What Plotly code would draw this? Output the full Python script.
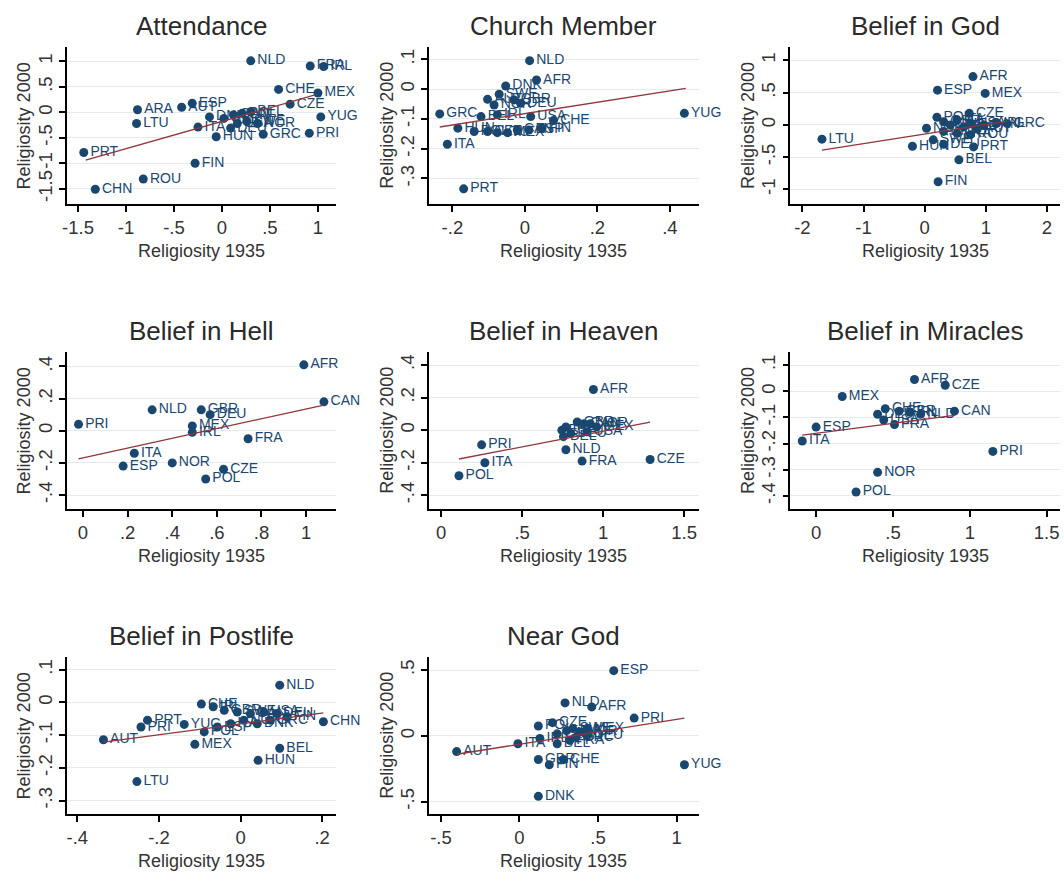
import plotly.graph_objects as go

W, H = 1064, 882

# ---------------- data: country code, religiosity 1935 (x), religiosity 2000 (y) ----------------
att_codes = ["NLD", "FRA", "IRL", "CHE", "MEX", "CZE", "YUG", "PRI", "GRC", "HUN", "ARA", "LTU",
             "AUT", "ESP", "PRT", "CHN", "ROU", "FIN", "ITA", "DNK", "GBR", "CAN", "POL", "BEL",
             "USA", "SWE", "NOR", "DEU"]
att_x = [0.30, 0.92, 1.06, 0.59, 1.00, 0.71, 1.03, 0.91, 0.43, -0.06, -0.88, -0.89,
         -0.42, -0.31, -1.44, -1.32, -0.82, -0.28, -0.25, -0.13, 0.02, 0.12, 0.21, 0.30,
         0.16, 0.26, 0.37, 0.09]
att_y = [1.01, 0.91, 0.90, 0.45, 0.38, 0.16, -0.09, -0.41, -0.43, -0.48, 0.05, -0.22,
         0.10, 0.18, -0.79, -1.51, -1.31, -1.00, -0.29, -0.09, -0.12, -0.05, -0.02, 0.01,
         -0.22, -0.18, -0.22, -0.31]
att_fit_x = [-1.42, 0.97]
att_fit_y = [-0.94, 0.34]

mem_codes = ["NLD", "AFR", "DNK", "SWE", "AUT", "NOR", "GBR", "DEU", "GRC", "BEL", "IRL", "USA",
             "CHE", "FIN", "HUN", "POL", "CZE", "LTU", "MEX", "CAN", "ESP", "ITA", "PRT", "YUG"]
mem_x = [0.013, 0.032, -0.053, -0.071, -0.103, -0.085, -0.030, -0.012, -0.235, -0.121, -0.076, 0.016,
         0.079, 0.047, -0.185, -0.140, -0.103, -0.076, -0.048, -0.021, 0.011, -0.214, -0.169, 0.440]
mem_y = [0.096, 0.031, 0.011, -0.017, -0.034, -0.053, -0.036, -0.047, -0.083, -0.092, -0.086, -0.092,
         -0.105, -0.131, -0.131, -0.142, -0.142, -0.146, -0.146, -0.137, -0.137, -0.185, -0.335, -0.081]
mem_fit_x = [-0.235, 0.444]
mem_fit_y = [-0.127, 0.003]

god_codes = ["AFR", "ESP", "MEX", "CZE", "POL", "GRC", "IRL", "LTU", "NOR", "HUN", "SWE", "DEU",
             "PRT", "BEL", "FIN", "GBR", "CHE", "ITA", "NLD", "USA", "AUT", "CAN", "DNK", "FRA", "ROU"]
god_x = [0.79, 0.21, 0.99, 0.73, 0.20, 1.35, 1.18, -1.68, 0.03, -0.20, 0.14, 0.31,
         0.80, 0.56, 0.22, 0.31, 0.42, 0.53, 0.64, 0.75, 0.86, 0.97, 0.31, 0.53, 0.75]
god_y = [0.75, 0.54, 0.49, 0.18, 0.12, 0.02, 0.03, -0.22, -0.05, -0.33, -0.23, -0.30,
         -0.34, -0.54, -0.88, 0.05, 0.00, 0.08, -0.03, 0.03, -0.05, 0.00, -0.10, -0.13, -0.15]
god_fit_x = [-1.68, 1.35]
god_fit_y = [-0.39, 0.06]

hell_codes = ["AFR", "CAN", "NLD", "GBR", "DEU", "MEX", "IRL", "PRI", "FRA", "ITA", "ESP", "NOR",
              "CZE", "POL"]
hell_x = [0.99, 1.08, 0.31, 0.53, 0.57, 0.49, 0.49, -0.02, 0.74, 0.23, 0.18, 0.40, 0.63, 0.55]
hell_y = [0.41, 0.18, 0.13, 0.13, 0.10, 0.03, -0.01, 0.04, -0.05, -0.14, -0.22, -0.20, -0.24, -0.30]
hell_fit_x = [-0.02, 1.08]
hell_fit_y = [-0.175, 0.16]

heav_codes = ["AFR", "CZE", "FRA", "NLD", "PRI", "ITA", "POL", "ESP", "IRL", "GBR", "CAN", "NOR",
              "MEX", "DEU", "USA", "BEL"]
heav_x = [0.94, 1.29, 0.87, 0.77, 0.25, 0.27, 0.11, 0.745, 0.77, 0.84, 0.88, 0.92,
          0.96, 0.80, 0.90, 0.755]
heav_y = [0.25, -0.18, -0.19, -0.12, -0.09, -0.20, -0.28, 0.00, 0.02, 0.05, 0.04, 0.04,
          0.02, -0.02, -0.01, -0.04]
heav_fit_x = [0.11, 1.29]
heav_fit_y = [-0.177, 0.049]

mir_codes = ["AFR", "CZE", "MEX", "CAN", "NLD", "DEU", "CHE", "GBR", "IRL", "USA", "FRA", "ESP",
             "ITA", "PRI", "NOR", "POL"]
mir_x = [0.64, 0.84, 0.17, 0.90, 0.68, 0.40, 0.45, 0.54, 0.61, 0.44, 0.51, 0.00,
         -0.09, 1.15, 0.40, 0.26]
mir_y = [0.045, 0.023, -0.020, -0.076, -0.088, -0.088, -0.067, -0.076, -0.080, -0.110, -0.127, -0.137,
         -0.190, -0.230, -0.310, -0.385]
mir_fit_x = [-0.09, 0.90]
mir_fit_y = [-0.168, -0.092]

post_codes = ["NLD", "CHE", "IRL", "CHN", "BEL", "HUN", "LTU", "AUT", "PRT", "PRI", "YUG", "MEX",
              "GBR", "SWE", "CAN", "USA", "DEU", "FIN", "POL", "ESP", "ITA", "NOR", "DNK", "GRC"]
post_x = [0.096, -0.096, -0.067, 0.203, 0.096, 0.043, -0.254, -0.336, -0.228, -0.244, -0.138, -0.112,
          -0.040, -0.008, 0.024, 0.057, 0.089, 0.114, -0.089, -0.057, -0.024, 0.008, 0.041, 0.073]
post_y = [0.053, -0.005, -0.013, -0.059, -0.140, -0.177, -0.242, -0.114, -0.054, -0.075, -0.067, -0.128,
          -0.024, -0.029, -0.034, -0.029, -0.034, -0.044, -0.090, -0.075, -0.065, -0.054, -0.065, -0.054]
post_fit_x = [-0.336, 0.203]
post_fit_y = [-0.121, -0.032]

near_codes = ["ESP", "NLD", "AFR", "PRI", "YUG", "AUT", "ITA", "DNK", "CHE", "GBR", "FIN", "CZE",
              "POL", "IRL", "CAN", "USA", "SWE", "NOR", "DEU", "FRA", "BEL", "GRC", "MEX"]
near_x = [0.60, 0.29, 0.46, 0.73, 1.05, -0.40, -0.01, 0.12, 0.28, 0.12, 0.19, 0.21,
          0.12, 0.13, 0.24, 0.30, 0.34, 0.385, 0.43, 0.32, 0.24, 0.36, 0.43]
near_y = [0.495, 0.25, 0.22, 0.135, -0.22, -0.12, -0.06, -0.46, -0.18, -0.18, -0.22, 0.10,
          0.075, -0.02, 0.015, 0.04, 0.055, 0.03, 0.00, -0.035, -0.06, -0.01, 0.055]
near_fit_x = [-0.40, 1.05]
near_fit_y = [-0.14, 0.135]

titles = ["Attendance", "Church Member", "Belief in God", "Belief in Hell", "Belief in Heaven",
          "Belief in Miracles", "Belief in Postlife", "Near God"]

# tick positions for each panel (x ticks, y ticks)
att_xticks, att_yticks = [-1.5, -1, -0.5, 0, 0.5, 1], [-1.5, -1, -0.5, 0, 0.5, 1]
mem_xticks, mem_yticks = [-0.2, 0, 0.2, 0.4], [-0.3, -0.2, -0.1, 0, 0.1]
god_xticks, god_yticks = [-2, -1, 0, 1, 2], [-1, -0.5, 0, 0.5, 1]
hell_xticks, hell_yticks = [0, 0.2, 0.4, 0.6, 0.8, 1], [-0.4, -0.2, 0, 0.2, 0.4]
heav_xticks, heav_yticks = [0, 0.5, 1, 1.5], [-0.4, -0.2, 0, 0.2, 0.4]
mir_xticks, mir_yticks = [0, 0.5, 1, 1.5], [-0.4, -0.3, -0.2, -0.1, 0, 0.1]
post_xticks, post_yticks = [-0.4, -0.2, 0, 0.2], [-0.3, -0.2, -0.1, 0, 0.1]
near_xticks, near_yticks = [-0.5, 0, 0.5, 1], [-0.5, 0, 0.5]

panels = [
    (att_codes, att_x, att_y, att_fit_x, att_fit_y, att_xticks, att_yticks),
    (mem_codes, mem_x, mem_y, mem_fit_x, mem_fit_y, mem_xticks, mem_yticks),
    (god_codes, god_x, god_y, god_fit_x, god_fit_y, god_xticks, god_yticks),
    (hell_codes, hell_x, hell_y, hell_fit_x, hell_fit_y, hell_xticks, hell_yticks),
    (heav_codes, heav_x, heav_y, heav_fit_x, heav_fit_y, heav_xticks, heav_yticks),
    (mir_codes, mir_x, mir_y, mir_fit_x, mir_fit_y, mir_xticks, mir_yticks),
    (post_codes, post_x, post_y, post_fit_x, post_fit_y, post_xticks, post_yticks),
    (near_codes, near_x, near_y, near_fit_x, near_fit_y, near_xticks, near_yticks),
]

# axis ranges per panel (x range, y range)
ranges = [
    ([-1.618, 1.193], [-1.80, 1.282]),
    ([-0.2646, 0.4796], [-0.386, 0.142]),
    ([-2.198, 2.214], [-1.225, 1.209]),
    ([-0.073, 1.136], [-0.487, 0.49]),
    ([-0.075, 1.59], [-0.484, 0.48]),
    ([-0.168, 1.587], [-0.45, 0.15]),
    ([-0.426, 0.235], [-0.341, 0.139]),
    ([-0.576, 1.141], [-0.594, 0.599]),
]

# plot-area geometry in pixels
COL_LEFT = [62, 426, 789]
ROW_TOP = [47, 352, 657]
PW, PH = 271, 157

NAVY = "#1a476f"
MAROON = "#90353b"
FONT = "Liberation Sans, Arial, sans-serif"


def stata_num(v):
    """Format a tick value the way Stata does: no leading zero."""
    s = ("%g" % v)
    if s.startswith("0.") and len(s) > 2:
        s = s[1:]
    elif s.startswith("-0."):
        s = "-" + s[2:]
    return s


fig = go.Figure()
annotations = []

for i, (codes, xs, ys, fx, fy, xt, yt) in enumerate(panels):
    r, c = divmod(i, 3)
    left, top = COL_LEFT[c], ROW_TOP[r]
    xdom = [left / W, (left + PW) / W]
    ydom = [1 - (top + PH) / H, 1 - top / H]
    sfx = "" if i == 0 else str(i + 1)
    xa, ya = "x" + sfx, "y" + sfx

    fig.add_trace(go.Scatter(
        x=xs, y=ys, text=codes, mode="markers+text", textposition="middle right",
        marker=dict(color=NAVY, size=9, line=dict(width=0)),
        textfont=dict(family=FONT, size=14, color=NAVY),
        cliponaxis=False, showlegend=False, xaxis=xa, yaxis=ya, hoverinfo="skip"))
    fig.add_trace(go.Scatter(
        x=fx, y=fy, mode="lines", line=dict(color=MAROON, width=1.3),
        showlegend=False, xaxis=xa, yaxis=ya, hoverinfo="skip"))

    xr, yr = ranges[i]
    common = dict(showline=True, linecolor="black", linewidth=1.5, ticks="outside",
                  ticklen=6, tickwidth=1.5, tickcolor="black", zeroline=False,
                  tickfont=dict(family=FONT, size=18.5, color="#333333"), fixedrange=True)
    fig.layout["xaxis" + sfx] = dict(
        domain=xdom, range=xr, anchor=ya, tickvals=xt, ticktext=[stata_num(v) for v in xt],
        showgrid=False, **common)
    fig.layout["yaxis" + sfx] = dict(
        domain=ydom, range=yr, anchor=xa, tickvals=yt, ticktext=[stata_num(v) for v in yt],
        showgrid=True, gridcolor="#e4ebee", gridwidth=1, tickangle=-90, **common)

    cx = left + PW / 2
    annotations.append(dict(text=titles[i], x=cx / W, y=1 - (top - 21) / H, xref="paper",
                            yref="paper", xanchor="center", yanchor="middle", showarrow=False,
                            font=dict(family=FONT, size=26, color="#2a2a2a")))
    annotations.append(dict(text="Religiosity 1935", x=cx / W, y=1 - (top + PH + 47) / H,
                            xref="paper", yref="paper", xanchor="center", yanchor="middle",
                            showarrow=False, font=dict(family=FONT, size=18, color="#333333")))
    annotations.append(dict(text="Religiosity 2000", x=(left - 43) / W, y=1 - (top + PH / 2) / H,
                            xref="paper", yref="paper", xanchor="center", yanchor="middle",
                            textangle=-90, showarrow=False,
                            font=dict(family=FONT, size=18, color="#333333")))

fig.update_layout(width=W, height=H, margin=dict(l=0, r=0, t=0, b=0),
                  paper_bgcolor="white", plot_bgcolor="white", annotations=annotations)

fig.write_html("out.html")
